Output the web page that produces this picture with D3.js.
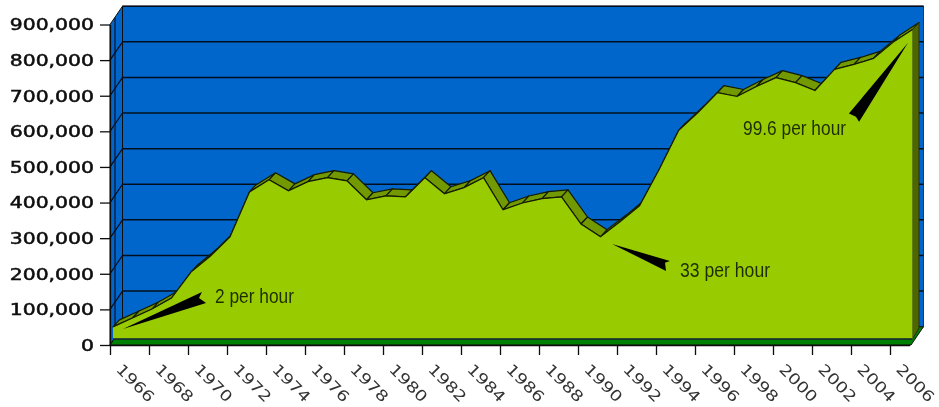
<!DOCTYPE html>
<html><head><meta charset="utf-8">
<script src="https://cdn.jsdelivr.net/npm/d3@7"></script>
<style>html,body{margin:0;padding:0;background:#fff}svg{display:block}</style>
</head><body><svg id="c" width="939" height="407"></svg>
<script>
const years = [1966,1967,1968,1969,1970,1971,1972,1973,1974,1975,1976,1977,1978,1979,1980,1981,1982,1983,1984,1985,1986,1987,1988,1989,1990,1991,1992,1993,1994,1995,1996,1997,1998,1999,2000,2001,2002,2003,2004,2005,2006,2007];
const values = [34000,59000,84000,115000,188000,233000,287000,413000,447000,416000,442000,453000,444000,391000,402000,399000,453000,408000,425000,453000,363000,382000,394000,399000,323000,287000,329000,374000,475000,585000,636000,692000,681000,709000,734000,720000,698000,757000,771000,788000,833000,869000];
const yTicks = [0,100000,200000,300000,400000,500000,600000,700000,800000,900000];
const annotationLabels = ["2 per hour","33 per hour","99.6 per hour"];
const annotationAnchors = [[5.23,101000],[29.08,174000],[32.31,574000]];
const annotationWidths = [79,90,103];
const arrow1 = [[0.51,28000],[4.56,132000],[4.41,115000],[4.77,101000]];
const arrow2 = [[25.59,267000],[28.56,219000],[28.31,214000],[28.36,191000]];
const arrow3 = [[40.77,832000],[37.74,633000],[38.1,624000],[38.26,610000]];

const colors = {wall:"#0066cc",area:"#99cc00",ribbon:"#739900",side:"#4d6600",floor:"#008000",line:"#04101f"};
const svg = d3.select("#c");
const defs = svg.append("defs");
defs.append("filter").attr("id","soft").attr("x","-5%").attr("y","-5%").attr("width","110%").attr("height","110%")
  .append("feGaussianBlur").attr("stdDeviation",0.45);
const root = svg.append("g").attr("filter","url(#soft)");

const x = d3.scaleLinear().domain([0,41]).range([110,909.5]);
const y = d3.scaleLinear().domain([0,900000]).range([345,24.5]);
const wall = {dx:12.5,dy:-18.3};   // front -> back wall
const front = {dx:3,dy:-6};        // front -> area front face
const rib = {dx:6.5,dy:-7};        // area front -> back edge of ribbon
const fx = i => x(i)+front.dx, fy = v => y(v)+front.dy;
const poly = pts => pts.map(p=>p.join(",")).join(" ");

const x0 = x.range()[0], x1 = x.range()[1]+1.5, yb = y(0), yt = y(900000);
// back wall
root.append("rect").attr("x",x0+wall.dx).attr("y",yt+wall.dy).attr("width",x1-x0).attr("height",yb-yt)
  .attr("fill",colors.wall).attr("stroke","#333").attr("stroke-width",1);
// left wall
root.append("polygon").attr("points",poly([[x0,yb],[x0,yt],[x0+wall.dx,yt+wall.dy],[x0+wall.dx,yb+wall.dy]]))
  .attr("fill",colors.wall).attr("stroke","#111").attr("stroke-width",1);
root.append("line").attr("x1",x0+5).attr("x2",x0+5).attr("y1",yt-7).attr("y2",yb-7).attr("stroke","#112").attr("stroke-width",1.2);
// grid
root.selectAll(".g").data(yTicks.slice(1)).join("line")
  .attr("x1",x0+wall.dx).attr("x2",x1+wall.dx).attr("y1",d=>y(d)+wall.dy).attr("y2",d=>y(d)+wall.dy)
  .attr("stroke",colors.line).attr("stroke-width",1.5);
root.selectAll(".d").data(yTicks.slice(1,-1)).join("line")
  .attr("x1",x0).attr("x2",x0+wall.dx).attr("y1",d=>y(d)).attr("y2",d=>y(d)+wall.dy)
  .attr("stroke",colors.line).attr("stroke-width",1.2);
// floor
root.append("polygon").attr("points",poly([[x0,yb],[x0+wall.dx,yb+wall.dy],[x1+wall.dx,yb+wall.dy],[x1,yb]]))
  .attr("fill",colors.floor).attr("stroke","#111").attr("stroke-width",1);
// ribbon
const last = values.length-1;
const segs = d3.range(last);
root.selectAll(".rib").data(segs).join("polygon")
  .attr("points",i=>poly([[fx(i),fy(values[i])],[fx(i+1),fy(values[i+1])],[fx(i+1)+rib.dx,fy(values[i+1])+rib.dy],[fx(i)+rib.dx,fy(values[i])+rib.dy]]))
  .attr("fill",colors.ribbon).attr("stroke","#141c00").attr("stroke-width",1.2).attr("stroke-linejoin","round");
// right side of the area
root.append("polygon").attr("points",poly([[fx(last),fy(values[last])],[fx(last)+rib.dx,fy(values[last])+rib.dy],[fx(last)+rib.dx,fy(0)+rib.dy-4],[fx(last),fy(0)]]))
  .attr("fill",colors.side).attr("stroke","#222").attr("stroke-width",.8);
// area face
const area = d3.area().x((d,i)=>fx(i)).y0(fy(0)).y1(d=>fy(d));
root.append("path").attr("d",area(values)).attr("fill",colors.area);
root.append("path").attr("d",d3.line().x((d,i)=>fx(i)).y(d=>fy(d))(values)).attr("fill","none").attr("stroke","#141c00").attr("stroke-width",1.2);
root.append("line").attr("x1",fx(0)).attr("x2",fx(last)).attr("y1",fy(0)).attr("y2",fy(0)).attr("stroke","#123").attr("stroke-width",1.4);

// axes
const ga = root.append("g").attr("transform",`translate(${x0},0)`)
  .call(d3.axisLeft(y).tickValues(yTicks).tickSize(10).tickSizeOuter(0).tickFormat(d3.format(",")));
ga.select(".domain").attr("stroke","#111").attr("stroke-width",1.3);
ga.selectAll(".tick line").attr("stroke","#111").attr("stroke-width",1.3);
ga.selectAll(".tick text").attr("x",0).attr("dy","0.36em").attr("text-anchor","end")
  .attr("transform","translate(-16,0) scale(1.36,1)")
  .style("font-family","'DejaVu Sans'").style("font-size","15px").attr("fill","#111").attr("stroke","#111").attr("stroke-width",0.5);
const gb = root.append("g").attr("transform",`translate(0,${yb})`)
  .call(d3.axisBottom(x).tickValues(d3.range(0,years.length-1,2)).tickSize(10).tickSizeOuter(0).tickFormat(i=>years[i]));
gb.select(".domain").attr("stroke","#111").attr("stroke-width",1.3);
gb.selectAll(".tick line").attr("stroke","#111").attr("stroke-width",1.3);
gb.selectAll(".tick text").attr("x",0).attr("y",0).attr("dy","0.36em").attr("text-anchor","middle")
  .attr("transform","translate(25,38) rotate(45) scale(1.22,1)")
  .style("font-family","'DejaVu Sans'").style("font-size","15px").attr("fill","#333");

// arrows
root.selectAll(".arrow").data([arrow1,arrow2,arrow3]).join("polygon")
  .attr("points",a=>poly(a.map(p=>[fx(p[0]),fy(p[1])]))).attr("fill","#000");
// annotation text
root.selectAll(".ann").data(annotationLabels).join("text")
  .attr("x",(d,i)=>fx(annotationAnchors[i][0])).attr("y",(d,i)=>fy(annotationAnchors[i][1]))
  .attr("textLength",(d,i)=>annotationWidths[i]).attr("lengthAdjust","spacingAndGlyphs")
  .style("font-family","'Liberation Sans'").style("font-size","21px").attr("fill","#1f2e00").text(d=>d);
</script></body></html>
